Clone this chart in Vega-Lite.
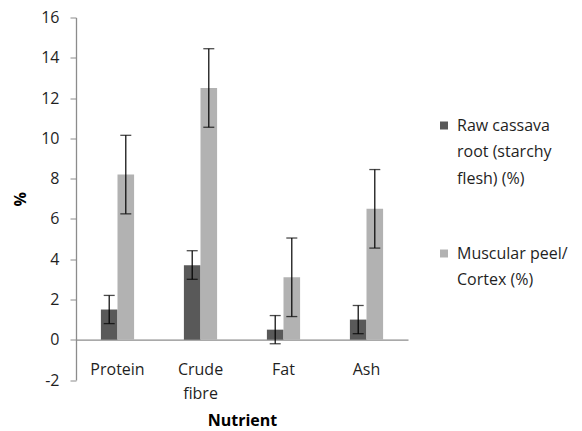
{
  "$schema": "https://vega.github.io/schema/vega-lite/v6.json",
  "width": 332,
  "height": 362.5,
  "autosize": "none",
  "padding": {"left": 76, "top": 17.5, "right": 174, "bottom": 51},
  "background": "white",
  "config": {
    "view": {"stroke": null},
    "font": "Open Sans",
    "axis": {"labelFont": "Open Sans", "titleFont": "Open Sans", "labelColor": "#1f1f1f", "titleColor": "#000000"},
    "legend": {"labelFont": "Open Sans"}
  },
  "data": {
    "values": [
      {"nutrient": "Protein", "series": "Raw cassava root (starchy flesh) (%)", "value": 1.5, "lo": 0.8, "hi": 2.2},
      {"nutrient": "Protein", "series": "Muscular peel/ Cortex (%)", "value": 8.2, "lo": 6.25, "hi": 10.15},
      {"nutrient": "Crude fibre", "series": "Raw cassava root (starchy flesh) (%)", "value": 3.7, "lo": 3.0, "hi": 4.42},
      {"nutrient": "Crude fibre", "series": "Muscular peel/ Cortex (%)", "value": 12.5, "lo": 10.55, "hi": 14.45},
      {"nutrient": "Fat", "series": "Raw cassava root (starchy flesh) (%)", "value": 0.5, "lo": -0.2, "hi": 1.2},
      {"nutrient": "Fat", "series": "Muscular peel/ Cortex (%)", "value": 3.1, "lo": 1.15, "hi": 5.05},
      {"nutrient": "Ash", "series": "Raw cassava root (starchy flesh) (%)", "value": 1.0, "lo": 0.3, "hi": 1.7},
      {"nutrient": "Ash", "series": "Muscular peel/ Cortex (%)", "value": 6.5, "lo": 4.55, "hi": 8.45}
    ]
  },
  "encoding": {
    "x": {
      "field": "nutrient",
      "type": "nominal",
      "sort": ["Protein", "Crude fibre", "Fat", "Ash"],
      "scale": {"paddingInner": 0.6, "paddingOuter": 0.3},
      "axis": {
        "title": "Nutrient",
        "titleFontSize": 16,
        "titleFontWeight": "bold",
        "titlePadding": 11,
        "labelAngle": 0,
        "labelFontSize": 16,
        "labelLineHeight": 24,
        "labelPadding": 22,
        "labelExpr": "datum.label == 'Crude fibre' ? ['Crude', 'fibre'] : datum.label",
        "ticks": false,
        "tickSize": 0,
        "offset": -40.28,
        "domainColor": "#8c8c8c",
        "domainWidth": 1.3
      }
    },
    "xOffset": {
      "field": "series",
      "type": "nominal",
      "sort": ["Raw cassava root (starchy flesh) (%)", "Muscular peel/ Cortex (%)"],
      "scale": {"paddingInner": 0, "paddingOuter": 0}
    }
  },
  "layer": [
    {
      "mark": {"type": "bar"},
      "encoding": {
        "y": {
          "field": "value",
          "type": "quantitative",
          "scale": {"domain": [-2, 16], "nice": false},
          "axis": {
            "title": "%",
            "titleFontSize": 16,
            "titleFontWeight": "bold",
            "titlePadding": 12,
            "labelFontSize": 16,
            "labelPadding": 11,
            "labelOverlap": false,
            "labelExpr": "datum.value < 0 ? '-' + format(-datum.value, 'd') : datum.label",
            "tickSize": 6,
            "values": [-2, 0, 2, 4, 6, 8, 10, 12, 14, 16],
            "grid": false,
            "domainColor": "#8c8c8c",
            "tickColor": "#8c8c8c",
            "domainWidth": 1.3
          }
        },
        "color": {
          "field": "series",
          "type": "nominal",
          "sort": ["Raw cassava root (starchy flesh) (%)", "Muscular peel/ Cortex (%)"],
          "scale": {"range": ["#595959", "#b2b2b2"]},
          "legend": {
            "title": null,
            "orient": "none",
            "legendX": 360,
            "legendY": 100,
            "padding": 0,
            "symbolType": "square",
            "symbolSize": 64,
            "symbolStrokeWidth": 0,
            "labelFontSize": 16,
            "labelColor": "#1f1f1f",
            "labelOffset": 5,
            "rowPadding": 59,
            "labelLimit": 200,
            "labelExpr": "datum.label == 'Raw cassava root (starchy flesh) (%)' ? ['Raw cassava', 'root (starchy', 'flesh) (%)'] : ['Muscular peel/', 'Cortex (%)']",
            "encode": {"labels": {"update": {"lineHeight": {"value": 26.5}}}}
          }
        }
      }
    },
    {
      "mark": {"type": "rule", "color": "black", "strokeWidth": 1.2},
      "encoding": {
        "y": {"field": "lo", "type": "quantitative"},
        "y2": {"field": "hi"}
      }
    },
    {
      "mark": {"type": "tick", "color": "black", "thickness": 1.3, "size": 11, "orient": "horizontal"},
      "encoding": {"y": {"field": "lo", "type": "quantitative"}}
    },
    {
      "mark": {"type": "tick", "color": "black", "thickness": 1.3, "size": 11, "orient": "horizontal"},
      "encoding": {"y": {"field": "hi", "type": "quantitative"}}
    }
  ]
}
